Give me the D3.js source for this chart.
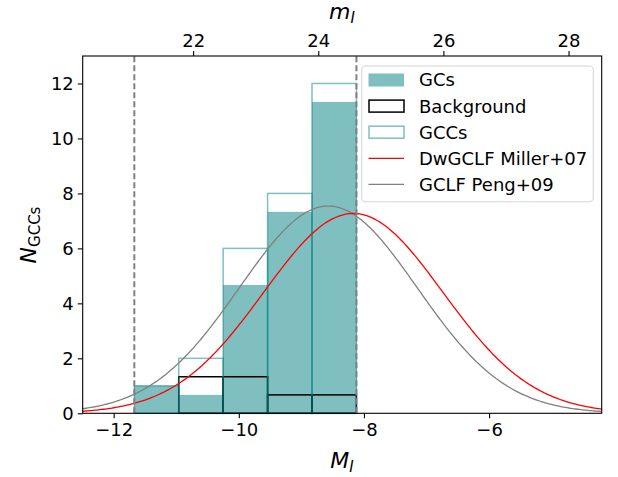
<!DOCTYPE html>
<html>
<head>
<meta charset="utf-8">
<script src="https://cdn.jsdelivr.net/npm/d3@7"></script>
<style>
  body { margin: 0; background: #fff; }
  text { font-family: "DejaVu Sans", sans-serif; }
</style>
</head>
<body>
<div id="chart"></div>
<script>
// histogram bins in absolute magnitude M_I
var binEdges = [-11.67, -10.96, -10.25, -9.54, -8.83, -8.12];
var gccCounts = [1, 2, 6, 8, 12];            // all candidates
var bkgCounts = [0, 1.33, 1.33, 0.67, 0.67];  // background estimate
var gcCounts = [1, 0.67, 4.67, 7.33, 11.33];  // background-subtracted
var cutLines = [-11.67, -8.12];
var distMod = 32.73;

// Gaussian luminosity functions: [mean, sigma, peak]
var millerGclf = [-8.17, 1.43, 7.27];
var pengGclf = [-8.57, 1.42, 7.54];

var xTicks = [-12, -10, -8, -6];
var topTicks = [22, 24, 26, 28];
var yTicks = [0, 2, 4, 6, 8, 10, 12];

var W = 618, H = 477;
var svg = d3.select("#chart").append("svg").attr("width", W).attr("height", H);

var x = d3.scaleLinear().domain([-12.495, -4.2]).range([82.7, 601.7]);
var xTop = d3.scaleLinear().domain([-12.495 + distMod, -4.2 + distMod]).range([82.7, 601.7]);
var y = d3.scaleLinear().domain([0, 13]).range([413.3, 56]);

var teal = "rgb(0,128,128)";

// GCs filled histogram
var bins = d3.range(gcCounts.length);
svg.append("g").selectAll("rect").data(bins).enter().append("rect")
   .attr("x", function (i) { return x(binEdges[i]); })
   .attr("width", function (i) { return x(binEdges[i + 1]) - x(binEdges[i]); })
   .attr("y", function (i) { return y(gcCounts[i]); })
   .attr("height", function (i) { return y(0) - y(gcCounts[i]); })
   .attr("fill", teal).attr("fill-opacity", 0.5);

// background outline
svg.append("g").selectAll("rect").data(bins.filter(function (i) { return bkgCounts[i] > 0; }))
   .enter().append("rect")
   .attr("x", function (i) { return x(binEdges[i]); })
   .attr("width", function (i) { return x(binEdges[i + 1]) - x(binEdges[i]); })
   .attr("y", function (i) { return y(bkgCounts[i]); })
   .attr("height", function (i) { return y(0) - y(bkgCounts[i]); })
   .attr("fill", "none").attr("stroke", "#000").attr("stroke-width", 1.5);

// GCCs outline
svg.append("g").selectAll("rect").data(bins).enter().append("rect")
   .attr("x", function (i) { return x(binEdges[i]); })
   .attr("width", function (i) { return x(binEdges[i + 1]) - x(binEdges[i]); })
   .attr("y", function (i) { return y(gccCounts[i]); })
   .attr("height", function (i) { return y(0) - y(gccCounts[i]); })
   .attr("fill", "none").attr("stroke", teal).attr("stroke-opacity", 0.5).attr("stroke-width", 1.5);

// model curves
var grid = d3.range(0, 301).map(function (k) { return -12.495 + k * (8.295 / 300); });
function gauss(p) {
    return grid.map(function (m) { return [m, p[2] * Math.exp(-Math.pow(m - p[0], 2) / (2 * p[1] * p[1]))]; });
}
var line = d3.line().x(function (d) { return x(d[0]); }).y(function (d) { return y(d[1]); });
svg.append("path").attr("d", line(gauss(pengGclf))).attr("fill", "none").attr("stroke", "gray").attr("stroke-width", 1.3);
svg.append("path").attr("d", line(gauss(millerGclf))).attr("fill", "none").attr("stroke", "red").attr("stroke-width", 1.3);

// completeness / selection limits
svg.selectAll(".cut").data(cutLines).enter().append("line")
   .attr("x1", function (d) { return x(d); }).attr("x2", function (d) { return x(d); })
   .attr("y1", y(0)).attr("y2", y(13))
   .attr("stroke", "gray").attr("stroke-width", 2).attr("stroke-dasharray", "6,3");

// axes
var fs = "18px";
var gx = svg.append("g").attr("transform", "translate(0," + y(0) + ")")
   .call(d3.axisBottom(x).tickValues(xTicks).tickSize(4.9).tickPadding(5).tickFormat(function (d) { return d < 0 ? "\u2212" + Math.abs(d) : d; }));
var gt = svg.append("g").attr("transform", "translate(0," + y(13) + ")")
   .call(d3.axisTop(xTop).tickValues(topTicks).tickSize(4.9).tickPadding(4));
var gy = svg.append("g").attr("transform", "translate(" + x(-12.495) + ",0)")
   .call(d3.axisLeft(y).tickValues(yTicks).tickSize(4.9).tickPadding(4));
[gx, gt, gy].forEach(function (g) {
    g.select(".domain").remove();
    g.selectAll("line").attr("stroke", "#000").attr("stroke-width", 1.1);
    g.selectAll("text").attr("fill", "#000").style("font-size", fs).style("font-family", "DejaVu Sans");
});
svg.append("rect").attr("x", x(-12.495)).attr("y", y(13))
   .attr("width", x(-4.2) - x(-12.495)).attr("height", y(0) - y(13))
   .attr("fill", "none").attr("stroke", "#000").attr("stroke-width", 1.1);

// axis labels
var xl = svg.append("text").attr("x", 342).attr("y", 468).attr("text-anchor", "middle").style("font-size", "22px");
xl.append("tspan").style("font-style", "italic").text("M");
xl.append("tspan").style("font-style", "italic").style("font-size", "15px").attr("dy", 4).text("I");

var tl = svg.append("text").attr("x", 342).attr("y", 19).attr("text-anchor", "middle").style("font-size", "22px");
tl.append("tspan").style("font-style", "italic").text("m");
tl.append("tspan").style("font-style", "italic").style("font-size", "15px").attr("dy", 4).text("I");

var yl = svg.append("text").attr("transform", "translate(36,235) rotate(-90)").attr("text-anchor", "middle").style("font-size", "22px");
yl.append("tspan").style("font-style", "italic").text("N");
yl.append("tspan").style("font-size", "15px").attr("dy", 4).text("GCCs");

// legend
var lg = svg.append("g");
lg.append("rect").attr("x", 361.7).attr("y", 66).attr("width", 231.6).attr("height", 135.7)
  .attr("rx", 4).attr("fill", "#fff").attr("fill-opacity", 0.8).attr("stroke", "#d6d6d6").attr("stroke-width", 1.1);
var legendItems = [
    { label: "GCs", kind: "fill" },
    { label: "Background", kind: "bkg" },
    { label: "GCCs", kind: "gcc" },
    { label: "DwGCLF Miller+07", kind: "red" },
    { label: "GCLF Peng+09", kind: "gray" }
];
legendItems.forEach(function (it, i) {
    var cy = 80 + i * 26.1;
    if (it.kind === "fill") {
        lg.append("rect").attr("x", 368.5).attr("y", cy - 6.5).attr("width", 35.5).attr("height", 13)
          .attr("fill", teal).attr("fill-opacity", 0.5);
    } else if (it.kind === "bkg") {
        lg.append("rect").attr("x", 369).attr("y", cy - 6).attr("width", 35).attr("height", 12)
          .attr("fill", "none").attr("stroke", "#000").attr("stroke-width", 1.5);
    } else if (it.kind === "gcc") {
        lg.append("rect").attr("x", 369).attr("y", cy - 6).attr("width", 35).attr("height", 12)
          .attr("fill", "none").attr("stroke", teal).attr("stroke-opacity", 0.5).attr("stroke-width", 1.5);
    } else {
        lg.append("line").attr("x1", 368.5).attr("x2", 404).attr("y1", cy).attr("y2", cy)
          .attr("stroke", it.kind === "red" ? "red" : "gray").attr("stroke-width", 1.3);
    }
    lg.append("text").attr("x", 419).attr("y", cy).attr("dy", "0.36em").style("font-size", fs).text(it.label);
});
</script>
</body>
</html>
